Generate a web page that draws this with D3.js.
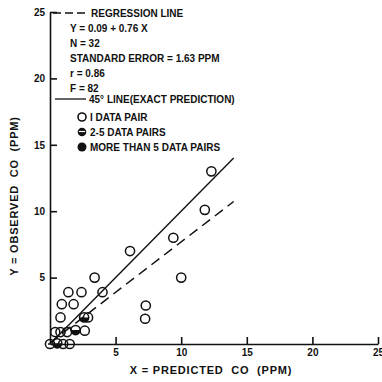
<!DOCTYPE html>
<html>
<head>
<meta charset="utf-8">
<script src="https://cdn.jsdelivr.net/npm/d3@7"></script>
<style>
  body { margin: 0; background: #fff; }
  svg text { font-family: "Liberation Sans", Arial, sans-serif; font-weight: bold; fill: #111; }
</style>
</head>
<body>
<svg id="chart" width="382" height="382"></svg>
<script>
// tick values for both axes
const xTicks = [5, 10, 15, 20, 25];
const yTicks = [5, 10, 15, 20, 25];

// single data pair points [predicted, observed]
const singlePairs = [
  [12.3, 13.0], [11.8, 10.1], [9.4, 8.0], [10.0, 5.0], [6.1, 7.0],
  [7.3, 2.9], [7.25, 1.9], [3.4, 5.0], [4.0, 3.9], [2.4, 3.9],
  [1.4, 3.9], [0.9, 3.0], [1.8, 3.0], [0.8, 2.0], [2.9, 2.0],
  [2.65, 1.0], [0.4, 0.9], [0.8, 0.9], [1.3, 0.9], [0.0, 0.0],
  [1.0, 0.0], [1.5, 0.0]
];
// 2-5 data pairs
const multiPairs = [[2.6, 2.0], [1.95, 1.05], [0.55, 0.05]];

// regression Y = 0.09 + 0.76X and 45 degree line
const regA = 0.09, regB = 0.76;
const lineEnd = 14;

const legendStats = [
  'Y = 0.09 + 0.76 X',
  'N = 32',
  'STANDARD ERROR = 1.63 PPM',
  'r = 0.86',
  'F = 82'
];
const legendMarks = ['I DATA PAIR', '2-5 DATA PAIRS', 'MORE THAN 5 DATA PAIRS'];

const svg = d3.select('#chart');
const x = d3.scaleLinear().domain([0, 25]).range([50, 378]);
const y = d3.scaleLinear().domain([0, 25]).range([344, 12]);

// axes with inward ticks
const xAxis = svg.append('g')
  .attr('transform', `translate(0,${y(0)})`)
  .call(d3.axisBottom(x).tickValues(xTicks).tickSize(-7).tickPadding(5).tickSizeOuter(0));
const yAxis = svg.append('g')
  .attr('transform', `translate(${x(0)},0)`)
  .call(d3.axisLeft(y).tickValues(yTicks).tickSize(-7).tickPadding(5).tickSizeOuter(0));
[xAxis, yAxis].forEach(a => {
  a.select('.domain').attr('stroke', '#111').attr('stroke-width', 1.6);
  a.selectAll('.tick line').attr('stroke', '#111').attr('stroke-width', 1.6);
  a.selectAll('.tick text').style('font-size', '10px').style('font-family', '"Liberation Sans", Arial, sans-serif').style('font-weight', 'bold');
});
// x axis extends slightly left of origin
svg.append('line').attr('x1', x(0) - 2).attr('x2', x(0)).attr('y1', y(0)).attr('y2', y(0))
  .attr('stroke', '#111').attr('stroke-width', 1.6);

// axis titles
svg.append('text')
  .attr('x', 211).attr('y', 374)
  .attr('text-anchor', 'middle')
  .style('font-size', '11px').style('letter-spacing', '0.8px')
  .attr('xml:space', 'preserve')
  .text('X = PREDICTED  CO  (PPM)');
svg.append('text')
  .attr('transform', 'translate(18,196) rotate(-90)')
  .attr('text-anchor', 'middle')
  .style('font-size', '11px').style('letter-spacing', '0.8px')
  .attr('xml:space', 'preserve')
  .text('Y = OBSERVED  CO  (PPM)');

// lines
svg.append('line')
  .attr('x1', x(0)).attr('y1', y(regA))
  .attr('x2', x(lineEnd)).attr('y2', y(regA + regB * lineEnd))
  .attr('stroke', '#111').attr('stroke-width', 1.5)
  .attr('stroke-dasharray', '10,6');
svg.append('line')
  .attr('x1', x(0)).attr('y1', y(0))
  .attr('x2', x(lineEnd)).attr('y2', y(lineEnd))
  .attr('stroke', '#111').attr('stroke-width', 1.4);

// points
const r = 4.6;
svg.append('g').selectAll('circle')
  .data(singlePairs)
  .join('circle')
  .attr('cx', d => x(d[0])).attr('cy', d => y(d[1]))
  .attr('r', r).attr('fill', 'none').attr('stroke', '#111').attr('stroke-width', 1.5);

function halfCircle(g, cx, cy) {
  g.append('path')
    .attr('d', `M${cx - r},${cy} A${r},${r} 0 0 0 ${cx + r},${cy} Z`)
    .attr('fill', '#111');
  g.append('circle').attr('cx', cx).attr('cy', cy).attr('r', r)
    .attr('fill', 'none').attr('stroke', '#111').attr('stroke-width', 1.5);
}
const multiG = svg.append('g');
multiPairs.forEach(d => halfCircle(multiG, x(d[0]), y(d[1])));

// legend
const lg = svg.append('g');
lg.append('line').attr('x1', 53).attr('x2', 87).attr('y1', 13).attr('y2', 13)
  .attr('stroke', '#111').attr('stroke-width', 1.5).attr('stroke-dasharray', '8,4');
lg.append('text').attr('x', 91).attr('y', 17).style('font-size', '10px').text('REGRESSION LINE');
lg.selectAll('.stat')
  .data(legendStats)
  .join('text')
  .attr('class', 'stat')
  .attr('x', 70).attr('y', (d, i) => 32 + i * 15)
  .style('font-size', '10px')
  .text(d => d);
lg.append('line').attr('x1', 55).attr('x2', 86).attr('y1', 99).attr('y2', 99)
  .attr('stroke', '#111').attr('stroke-width', 1.3);
lg.append('text').attr('x', 89).attr('y', 103).style('font-size', '10px').text('45° LINE(EXACT PREDICTION)');
legendMarks.forEach((t, i) => {
  const cy = 117 + i * 15;
  if (i === 0) {
    lg.append('circle').attr('cx', 82).attr('cy', cy).attr('r', 4)
      .attr('fill', 'none').attr('stroke', '#111').attr('stroke-width', 1.6);
  } else if (i === 1) {
    lg.append('circle').attr('cx', 82).attr('cy', cy).attr('r', 4.3).attr('fill', '#111');
    lg.append('line').attr('x1', 79).attr('x2', 85).attr('y1', cy - 0.5).attr('y2', cy - 0.5)
      .attr('stroke', '#fff').attr('stroke-width', 1.2);
  } else {
    lg.append('circle').attr('cx', 82).attr('cy', cy).attr('r', 4.5).attr('fill', '#111');
  }
  lg.append('text').attr('x', 90).attr('y', cy + 4).style('font-size', '10px').text(t);
});
</script>
</body>
</html>
